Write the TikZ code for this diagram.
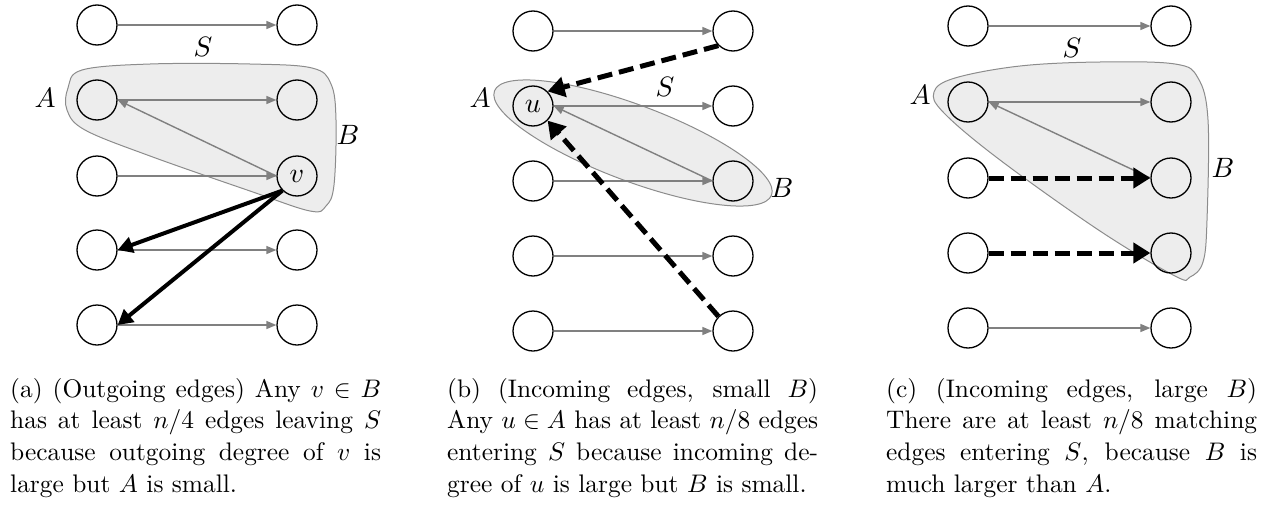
\documentclass[tikz,border=0pt]{standalone}
\usepackage{graphicx}
\usetikzlibrary{arrows.meta}
\definecolor{edgegray}{RGB}{128,128,128}
\definecolor{blobfill}{RGB}{237,237,237}
\definecolor{blobline}{RGB}{140,140,140}
\newcommand{\biglab}[1]{\scalebox{2.8}{$#1$}}
\newcommand{\captext}[1]{\scalebox{2.54}{\parbox[t]{146pt}{\fontsize{10}{12.5}\selectfont #1}}}
\begin{document}
\begin{tikzpicture}[x=1pt,y=-1pt,
  vtx/.style={circle,draw=black,line width=1.3pt,minimum size=40pt,inner sep=0pt},
  garrow/.style={draw=edgegray,line width=1.4pt,-{Triangle[length=10pt,width=8pt]}},
  thickarrow/.style={draw=black,line width=4pt,-{Triangle[length=15pt,width=16pt]}},
  dasharrow/.style={draw=black,line width=5pt,dash pattern=on 15pt off 7pt,-{Triangle[length=17pt,width=20pt]}},
  blob/.style={fill=blobfill,draw=blobline,line width=1pt},
  setlabel/.style={inner sep=0pt},
  capt/.style={anchor=base west,inner sep=0pt}]
\useasboundingbox (0,0) rectangle (1273,506);

% ---------------- panel (a)
\draw[blob] plot[smooth cycle, tension=0.6] coordinates {(68,88) (82,70) (150,64) (250,64) (312,68) (331,84) (336,120) (334,185) (326,206) (310,211) (250,191) (150,156) (85,130) (67,110)};
\node[vtx] (aL1) at (97,25) {};
\node[vtx] (aR1) at (297,25) {};
\node[vtx] (aL2) at (97,100) {};
\node[vtx] (aR2) at (297,100) {};
\node[vtx] (aL3) at (97,176) {};
\node[vtx] (aR3) at (297,176) {\biglab{v}};
\node[vtx] (aL4) at (97,250) {};
\node[vtx] (aR4) at (297,250) {};
\node[vtx] (aL5) at (97,325) {};
\node[vtx] (aR5) at (297,325) {};
\draw[garrow] (aL1) -- (aR1);
\draw[garrow] (aL2) -- (aR2);
\draw[garrow] (aL3) -- (aR3);
\draw[garrow] (aL4) -- (aR4);
\draw[garrow] (aL5) -- (aR5);
\draw[garrow] (aR3.west) -- (aL2.east);
\draw[thickarrow] (aR3.south west) -- (aL4.east);
\draw[thickarrow] (aR3.south west) -- (aL5.east);
\node[setlabel] (aA) at (45,98) {\biglab{A}};
\node[setlabel] (aB) at (348,135) {\biglab{B}};
\node[setlabel] (aS) at (203,47) {\biglab{S}};

% ---------------- panel (b)
\begin{scope}[shift={(633,143)},rotate=-20.6]
\draw[blob] (0,0) ellipse [x radius=148pt, y radius=38pt];
\end{scope}
\node[vtx] (bL1) at (533,31) {};
\node[vtx] (bR1) at (733,31) {};
\node[vtx] (bL2) at (533,106) {\biglab{u}};
\node[vtx] (bR2) at (733,106) {};
\node[vtx] (bL3) at (533,181) {};
\node[vtx] (bR3) at (733,181) {};
\node[vtx] (bL4) at (533,256) {};
\node[vtx] (bR4) at (733,256) {};
\node[vtx] (bL5) at (533,331) {};
\node[vtx] (bR5) at (733,331) {};
\draw[garrow] (bL1) -- (bR1);
\draw[garrow] (bL2) -- (bR2);
\draw[garrow] (bL3) -- (bR3);
\draw[garrow] (bL4) -- (bR4);
\draw[garrow] (bL5) -- (bR5);
\draw[garrow] (bR3.west) -- (bL2.east);
\draw[dasharrow] (bR1.south west) -- (bL2.north east);
\draw[dasharrow] (bR5.north west) -- (bL2.south east);
\node[setlabel] (bA) at (480,98) {\biglab{A}};
\node[setlabel] (bB) at (782,188) {\biglab{B}};
\node[setlabel] (bS) at (665,87) {\biglab{S}};

% ---------------- panel (c)
\draw[blob] plot[smooth cycle, tension=0.6] coordinates {(934,92) (955,78) (1020,66) (1100,62) (1175,64) (1198,78) (1208,120) (1207,220) (1203,262) (1190,277) (1175,276) (1100,231) (1000,160) (944,113)};
\node[vtx] (cL1) at (968,26) {};
\node[vtx] (cR1) at (1171,26) {};
\node[vtx] (cL2) at (968,102) {};
\node[vtx] (cR2) at (1171,102) {};
\node[vtx] (cL3) at (968,178) {};
\node[vtx] (cR3) at (1171,178) {};
\node[vtx] (cL4) at (968,253) {};
\node[vtx] (cR4) at (1171,253) {};
\node[vtx] (cL5) at (968,328) {};
\node[vtx] (cR5) at (1171,328) {};
\draw[garrow] (cL1) -- (cR1);
\draw[garrow] (cL2) -- (cR2);
\draw[garrow] (cL5) -- (cR5);
\draw[garrow] (cR3.west) -- (cL2.east);
\draw[dasharrow] (cL3) -- (cR3);
\draw[dasharrow] (cL4) -- (cR4);
\node[setlabel] (cA) at (920,95) {\biglab{A}};
\node[setlabel] (cB) at (1223,168) {\biglab{B}};
\node[setlabel] (cS) at (1072,48) {\biglab{S}};

% ---------------- captions
\node[capt] (capa) at (10,397) {\captext{(a) (Outgoing edges) Any $v\in B$\linebreak has at least $n/4$ edges leaving $S$\linebreak because outgoing degree of $v$ is\linebreak large but $A$ is small.}};
\node[capt] (capb) at (447,397) {\captext{(b) (Incoming edges, small $B$)\linebreak Any $u\in A$ has at least $n/8$ edges\linebreak entering $S$ because incoming de-\linebreak gree of $u$ is large but $B$ is small.}};
\node[capt] (capc) at (886,397) {\captext{(c) (Incoming edges, large $B$)\linebreak There are at least $n/8$ matching\linebreak edges entering $S$, because $B$ is\linebreak much larger than $A$.}};
\end{tikzpicture}
\end{document}
